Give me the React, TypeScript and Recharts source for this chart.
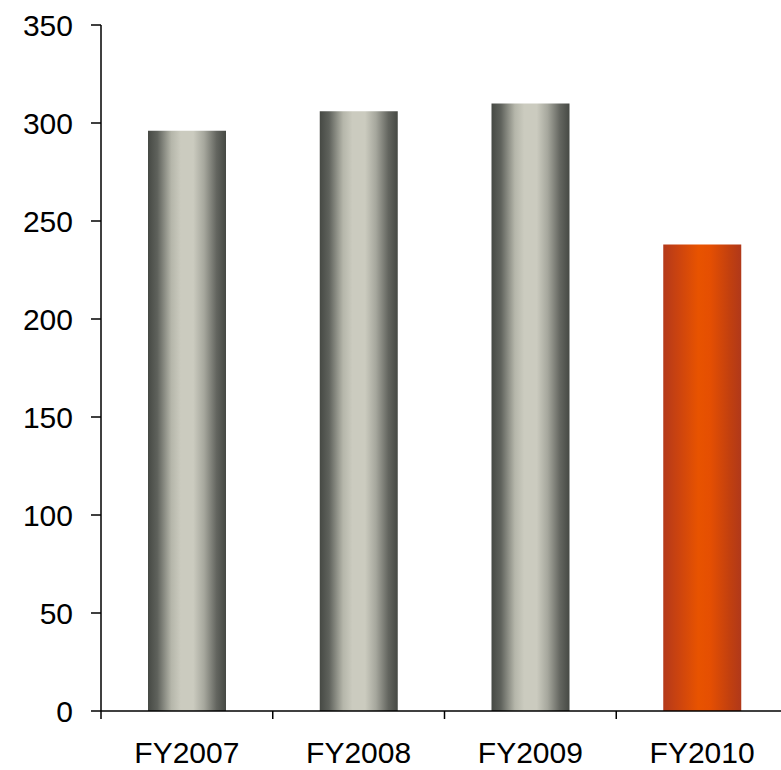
import { BarChart, Bar, XAxis, YAxis, Cell } from "recharts"

const years = ["FY2007", "FY2008", "FY2009", "FY2010"]
const values = [296, 306, 310, 238]
const yTicks = [0, 50, 100, 150, 200, 250, 300, 350]

const data = years.map((year, i) => ({ year, value: values[i] }))

const CHART_W = 790
const Y_AXIS_W = 101
const RIGHT = 2
const BAND = (CHART_W - Y_AXIS_W - RIGHT) / years.length

const font = "Liberation Sans, Arial, sans-serif"
const tickStyle = { fill: "#000000", fontSize: 30, fontFamily: font }

// category ticks sit on the boundaries between bars, labels stay centred
function XTick(props: any) {
  const { x, y, payload } = props
  const edge = x - BAND / 2
  return (
    <g>
      <line x1={edge} x2={edge} y1={y} y2={y + 8} stroke="#000000" strokeWidth={1.5} />
      <text x={x} y={y + 31} dy="0.71em" textAnchor="middle" fill="#000000" fontSize={30} fontFamily={font}>
        {payload.value}
      </text>
    </g>
  )
}

export default function App() {
  return (
    <div style={{ position: "absolute", left: 0, top: 0, width: 781, height: 770, overflow: "hidden", background: "#ffffff" }}>
      <BarChart width={CHART_W} height={770} data={data} margin={{ top: 25, right: RIGHT, bottom: 0, left: 0 }}>
        <defs>
          <linearGradient id="greyBar" x1="0" y1="0" x2="1" y2="0">
            <stop offset="0%" stopColor="#464944" />
            <stop offset="12%" stopColor="#5f625c" />
            <stop offset="30%" stopColor="#b5b6aa" />
            <stop offset="42%" stopColor="#cbcbbf" />
            <stop offset="58%" stopColor="#cbcbbf" />
            <stop offset="72%" stopColor="#a6a79d" />
            <stop offset="88%" stopColor="#63655f" />
            <stop offset="100%" stopColor="#464944" />
          </linearGradient>
          <linearGradient id="orangeBar" x1="0" y1="0" x2="1" y2="0">
            <stop offset="0%" stopColor="#b4391a" />
            <stop offset="20%" stopColor="#cc440f" />
            <stop offset="45%" stopColor="#e85300" />
            <stop offset="60%" stopColor="#e54f02" />
            <stop offset="85%" stopColor="#c2400f" />
            <stop offset="100%" stopColor="#b0381a" />
          </linearGradient>
        </defs>
        <XAxis
          dataKey="year"
          height={59}
          stroke="#000000"
          strokeWidth={1.5}
          tickLine={false}
          tickSize={0}
          tickMargin={0}
          tick={<XTick />}
          interval={0}
        />
        <YAxis
          width={Y_AXIS_W}
          domain={[0, 350]}
          ticks={yTicks}
          stroke="#000000"
          strokeWidth={1.5}
          tickSize={10}
          tickMargin={18}
          tick={tickStyle}
          interval={0}
        />
        <Bar dataKey="value" barSize={78} isAnimationActive={false}>
          {data.map((d, i) => (
            <Cell key={d.year} fill={i === data.length - 1 ? "url(#orangeBar)" : "url(#greyBar)"} />
          ))}
        </Bar>
      </BarChart>
    </div>
  )
}
